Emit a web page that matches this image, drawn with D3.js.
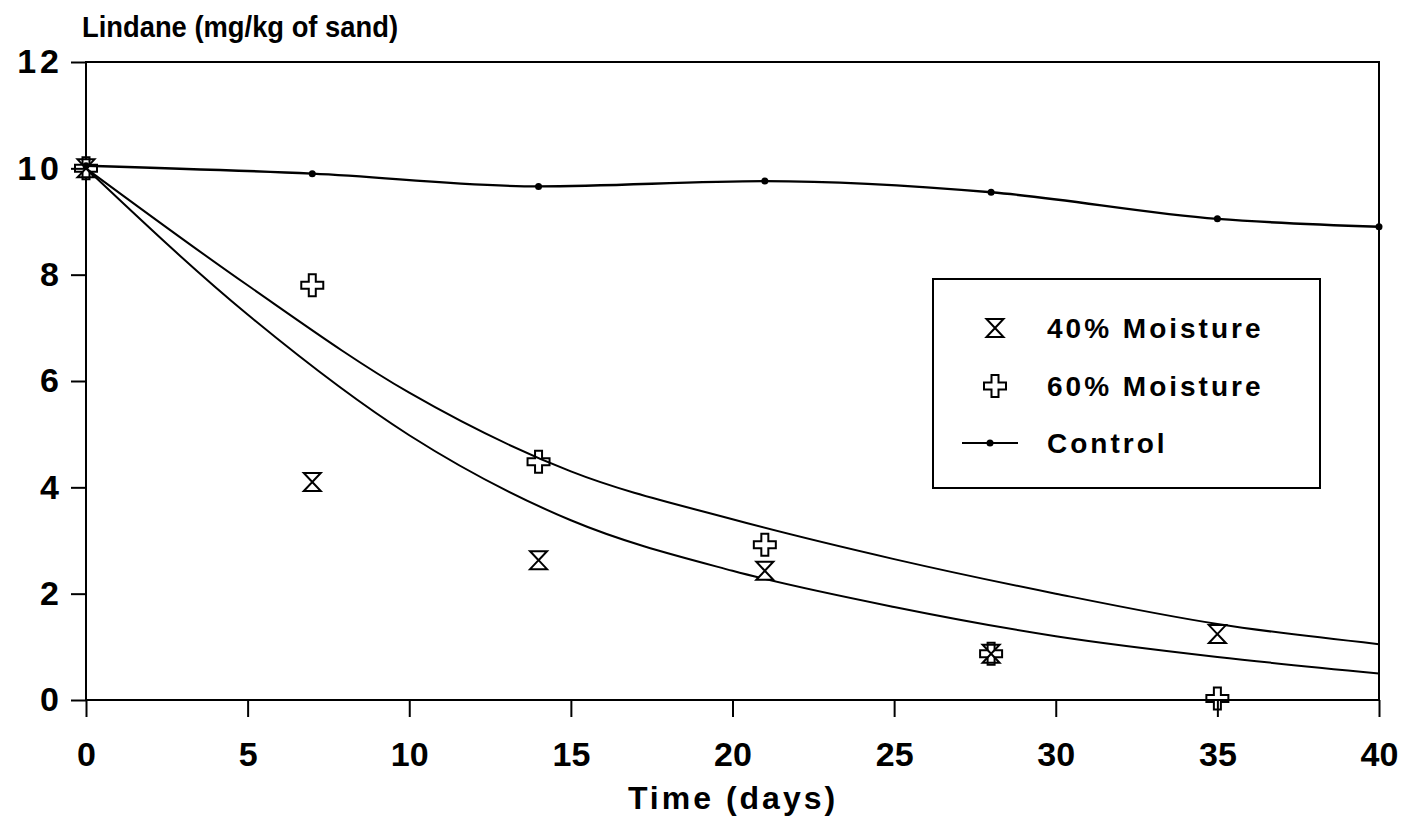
<!DOCTYPE html>
<html>
<head>
<meta charset="utf-8">
<script src="https://cdn.jsdelivr.net/npm/d3@7"></script>
<style>
  html, body { margin: 0; padding: 0; background: #fff; }
  svg { display: block; }
  text { font-family: "Liberation Sans", Arial, Helvetica, sans-serif; fill: #000; }
</style>
</head>
<body>
<svg id="chart" width="1408" height="820"></svg>
<script>
// ---- data ----
const days = [0, 7, 14, 21, 28, 35];
const moisture40 = [10.0, 4.10, 2.63, 2.43, 0.87, 1.24];
const moisture60 = [10.0, 7.80, 4.48, 2.92, 0.87, 0.03];
const controlDays = [0, 7, 14, 21, 28, 35, 40];
const control = [10.05, 9.90, 9.66, 9.76, 9.55, 9.05, 8.90];
const fitDays = [0, 5, 10, 15, 20, 25, 30, 35, 40];
const fit60 = [10.0, 7.80, 5.78, 4.30, 3.40, 2.65, 2.00, 1.43, 1.05];
const fit40 = [10.0, 7.25, 4.98, 3.38, 2.43, 1.75, 1.20, 0.81, 0.50];
const xTicks = [0, 5, 10, 15, 20, 25, 30, 35, 40];
const yTicks = [0, 2, 4, 6, 8, 10, 12];
const yTitle = "Lindane (mg/kg of sand)";
const xTitle = "Time (days)";
const legendLabels = ["40% Moisture", "60% Moisture", "Control"];

// ---- layout ----
const svg = d3.select("#chart");
svg.append("rect").attr("width", 1408).attr("height", 820).attr("fill", "#fff");
const L = 86, R = 1379, T = 62, B = 700;
const x = d3.scaleLinear().domain([0, 40]).range([L, R]);
const y = d3.scaleLinear().domain([0, 12]).range([B, T]);

// axes
const ax = svg.append("g").attr("transform", `translate(0,${B})`)
  .call(d3.axisBottom(x).tickValues(xTicks).tickSize(17).tickPadding(25).tickFormat(d3.format("d")));
const ay = svg.append("g").attr("transform", `translate(${L},0)`)
  .call(d3.axisLeft(y).tickValues(yTicks).tickSize(15).tickPadding(12).tickFormat(d3.format("d")));
[ax, ay].forEach(g => {
  g.select(".domain").remove();
  g.selectAll(".tick line").attr("stroke", "#000").attr("stroke-width", 2);
  g.selectAll(".tick text").attr("font-size", 34).attr("font-weight", "bold")
    .style("font-family", "'Liberation Sans', Arial, sans-serif").attr("fill", "#000");
});
ay.selectAll(".tick text").attr("letter-spacing", 4).attr("dx", 4);

// frame
svg.append("rect").attr("x", L).attr("y", T).attr("width", R - L).attr("height", B - T)
  .attr("fill", "none").attr("stroke", "#000").attr("stroke-width", 2);

// titles
svg.append("text").attr("x", 82).attr("y", 37).attr("font-size", 30).attr("font-weight", "bold")
  .attr("textLength", 316).attr("lengthAdjust", "spacingAndGlyphs")
  .text(yTitle);
svg.append("text").attr("x", 733).attr("y", 809).attr("text-anchor", "middle")
  .attr("font-size", 32).attr("font-weight", "bold").attr("letter-spacing", 3)
  .text(xTitle);

// curves
const line = d3.line().x(d => x(d[0])).y(d => y(d[1])).curve(d3.curveMonotoneX);
const g = svg.append("g");
g.append("path").datum(fitDays.map((d, i) => [d, fit60[i]])).attr("d", line)
  .attr("fill", "none").attr("stroke", "#000").attr("stroke-width", 2);
g.append("path").datum(fitDays.map((d, i) => [d, fit40[i]])).attr("d", line)
  .attr("fill", "none").attr("stroke", "#000").attr("stroke-width", 2);
g.append("path").datum(controlDays.map((d, i) => [d, control[i]])).attr("d", line)
  .attr("fill", "none").attr("stroke", "#000").attr("stroke-width", 2.4);

// marker shapes
const hourglass = "M-8.5,-9H8.5L0,0Z M-8.5,9H8.5L0,0Z";
const a = 3.5, s = 11;
const cross = `M${-a},${-s}H${a}V${-a}H${s}V${a}H${a}V${s}H${-a}V${a}H${-s}V${-a}H${-a}Z`;

g.selectAll(".m40").data(days).join("path").attr("class", "m40")
  .attr("transform", (d, i) => `translate(${x(d)},${y(moisture40[i])})`)
  .attr("d", hourglass).attr("fill", "#fff").attr("stroke", "#000").attr("stroke-width", 2)
  .attr("stroke-linejoin", "miter");
g.selectAll(".m60").data(days).join("path").attr("class", "m60")
  .attr("transform", (d, i) => `translate(${x(d)},${y(moisture60[i])})`)
  .attr("d", cross).attr("fill", "none").attr("stroke", "#000").attr("stroke-width", 2);
g.selectAll(".mc").data(controlDays).join("circle").attr("class", "mc")
  .attr("cx", d => x(d)).attr("cy", (d, i) => y(control[i])).attr("r", 3.5).attr("fill", "#000");

// legend
const lg = svg.append("g");
lg.append("rect").attr("x", 933).attr("y", 279).attr("width", 387).attr("height", 209)
  .attr("fill", "#fff").attr("stroke", "#000").attr("stroke-width", 2);
const ly = [328, 386, 443];
lg.append("path").attr("transform", `translate(995,${ly[0]})`).attr("d", hourglass)
  .attr("fill", "#fff").attr("stroke", "#000").attr("stroke-width", 2);
lg.append("path").attr("transform", `translate(995,${ly[1]})`).attr("d", cross)
  .attr("fill", "none").attr("stroke", "#000").attr("stroke-width", 2);
lg.append("line").attr("x1", 962).attr("x2", 1018).attr("y1", ly[2]).attr("y2", ly[2])
  .attr("stroke", "#000").attr("stroke-width", 2);
lg.append("circle").attr("cx", 990).attr("cy", ly[2]).attr("r", 3.5).attr("fill", "#000");
lg.selectAll(".lt").data(legendLabels).join("text").attr("class", "lt")
  .attr("x", 1047).attr("y", (d, i) => ly[i] + 10)
  .attr("font-size", 28).attr("font-weight", "bold").attr("letter-spacing", 3)
  .text(d => d);
</script>
</body>
</html>
